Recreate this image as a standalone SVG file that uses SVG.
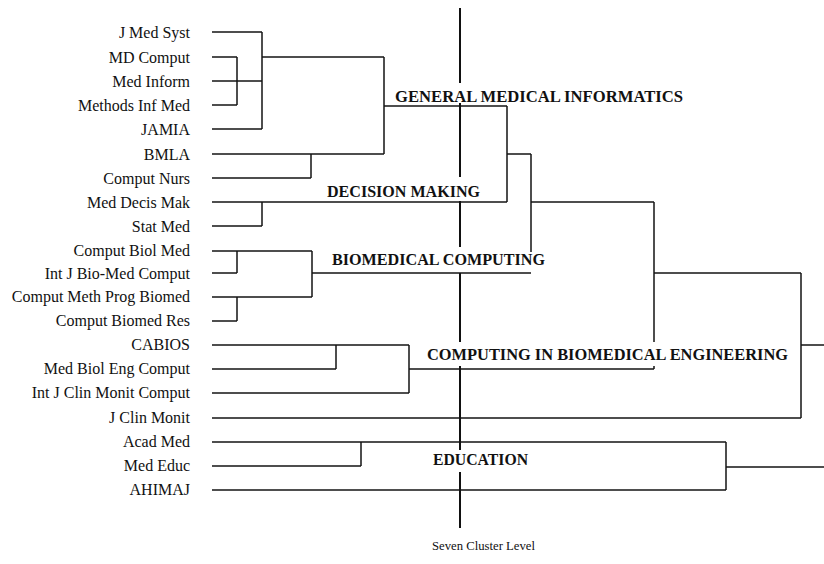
<svg xmlns="http://www.w3.org/2000/svg" width="824" height="564" viewBox="0 0 824 564">
<style>
.bg{fill:#ffffff}
.leaf{font-family:"Liberation Serif","Times New Roman",serif;font-size:16px;fill:#111;text-anchor:end}
.clu{font-family:"Liberation Serif","Times New Roman",serif;font-size:16px;font-weight:bold;fill:#111}
.cap{font-family:"Liberation Serif","Times New Roman",serif;font-size:12.5px;fill:#111}
.ln{fill:none;stroke:#151515;stroke-width:1.5}
.lvl{fill:none;stroke:#111;stroke-width:2}
</style>
<rect class="bg" x="0" y="0" width="824" height="564"/>
<g id="connectors">
<path class="ln" d="M212,32H262 M212,57H237 M212,81H262 M212,105H237 M212,129H262 M237,57V105 M262,32V129 M262,57H384 M384,57V154 M212,154H384 M212,178H311 M311,154V178 M384,106H507 M507,106V202 M212,202H507 M212,226H262 M262,202V226 M507,154H531 M531,154V252"/>
<path class="ln" d="M212,251H312 M212,273H237 M237,251V273 M212,297H312 M212,321H237 M237,297V321 M312,251V297 M312,273H531"/>
<path class="ln" d="M531,202H654 M654,202V342 M654,366V369 M212,345H409 M212,369H336 M336,345V369 M212,393H409 M409,345V393 M409,369H654"/>
<path class="ln" d="M654,273H801 M801,273V418 M212,418H801 M801,345H824"/>
<path class="ln" d="M212,442H726 M212,466H361 M361,442V466 M212,490H726 M726,442V490 M726,467H824"/>
<path class="lvl" d="M460,8V83 M460,103V177 M460,201V247 M460,273V342 M460,366V450 M460,472V528"/>
</g>
<g id="leaf-j-med-syst"><text class="leaf" x="190" y="37.5">J Med Syst</text></g>
<g id="leaf-md-comput"><text class="leaf" x="190" y="62.5">MD Comput</text></g>
<g id="leaf-med-inform"><text class="leaf" x="190" y="86.5">Med Inform</text></g>
<g id="leaf-methods-inf-med"><text class="leaf" x="190" y="110.5">Methods Inf Med</text></g>
<g id="leaf-jamia"><text class="leaf" x="190" y="134.5">JAMIA</text></g>
<g id="leaf-bmla"><text class="leaf" x="190" y="159.5">BMLA</text></g>
<g id="leaf-comput-nurs"><text class="leaf" x="190" y="183.5">Comput Nurs</text></g>
<g id="leaf-med-decis-mak"><text class="leaf" x="190" y="207.5">Med Decis Mak</text></g>
<g id="leaf-stat-med"><text class="leaf" x="190" y="231.5">Stat Med</text></g>
<g id="leaf-comput-biol-med"><text class="leaf" x="190" y="256">Comput Biol Med</text></g>
<g id="leaf-int-j-bio-med-comput"><text class="leaf" x="190" y="278.5">Int J Bio-Med Comput</text></g>
<g id="leaf-comput-meth-prog-biomed"><text class="leaf" x="190" y="302">Comput Meth Prog Biomed</text></g>
<g id="leaf-comput-biomed-res"><text class="leaf" x="190" y="326">Comput Biomed Res</text></g>
<g id="leaf-cabios"><text class="leaf" x="190" y="350">CABIOS</text></g>
<g id="leaf-med-biol-eng-comput"><text class="leaf" x="190" y="374">Med Biol Eng Comput</text></g>
<g id="leaf-int-j-clin-monit-comput"><text class="leaf" x="190" y="398">Int J Clin Monit Comput</text></g>
<g id="leaf-j-clin-monit"><text class="leaf" x="190" y="423">J Clin Monit</text></g>
<g id="leaf-acad-med"><text class="leaf" x="190" y="447">Acad Med</text></g>
<g id="leaf-med-educ"><text class="leaf" x="190" y="471">Med Educ</text></g>
<g id="leaf-ahimaj"><text class="leaf" x="190" y="495">AHIMAJ</text></g>
<g id="cluster-general-medical-informatics"><text class="clu" x="395" y="102" textLength="288" lengthAdjust="spacingAndGlyphs">GENERAL MEDICAL INFORMATICS</text></g>
<g id="cluster-decision-making"><text class="clu" x="327" y="197" textLength="153" lengthAdjust="spacingAndGlyphs">DECISION MAKING</text></g>
<g id="cluster-biomedical-computing"><text class="clu" x="332" y="265" textLength="213" lengthAdjust="spacingAndGlyphs">BIOMEDICAL COMPUTING</text></g>
<g id="cluster-computing-in-biomedical-engineering"><text class="clu" x="427" y="360" textLength="361" lengthAdjust="spacingAndGlyphs">COMPUTING IN BIOMEDICAL ENGINEERING</text></g>
<g id="cluster-education"><text class="clu" x="433" y="465" textLength="95" lengthAdjust="spacingAndGlyphs">EDUCATION</text></g>
<g id="level-label"><text class="cap" x="432" y="550" textLength="103" lengthAdjust="spacingAndGlyphs">Seven Cluster Level</text></g>
</svg>
